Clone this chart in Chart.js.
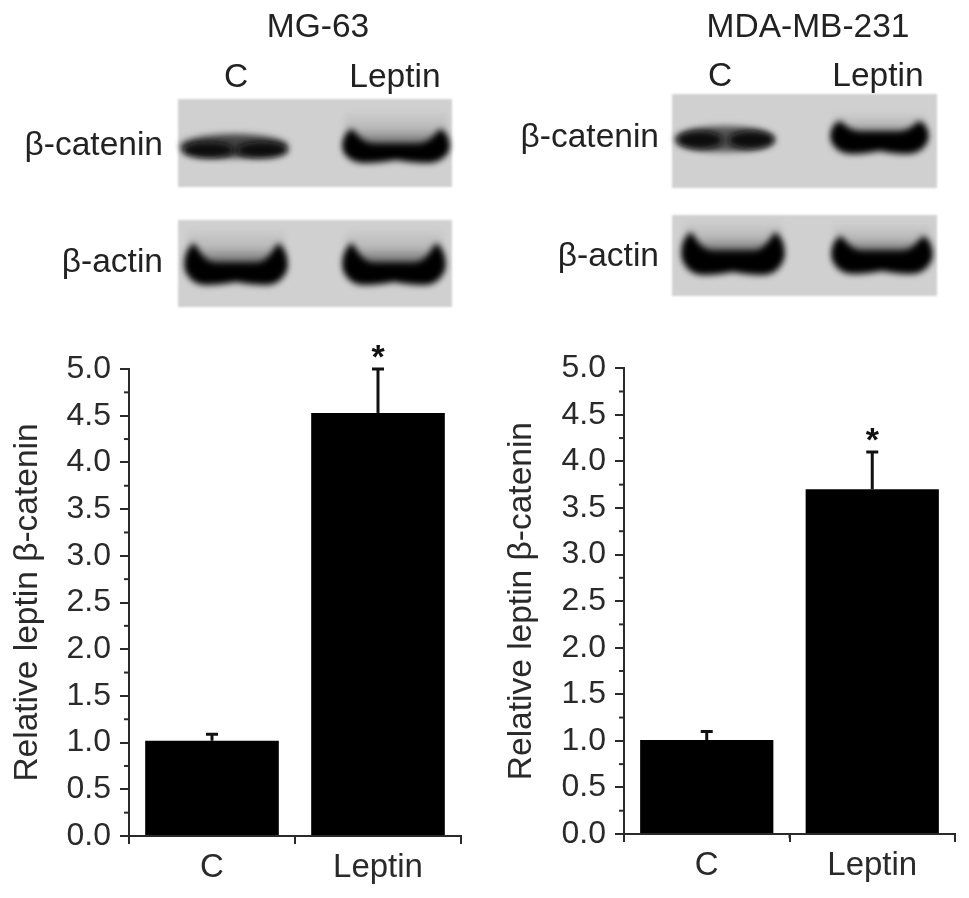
<!DOCTYPE html>
<html>
<head>
<meta charset="utf-8">
<script src="https://cdn.jsdelivr.net/npm/chart.js@4"></script>
<style>
  html, body { margin: 0; background: #fff; }
  body { position: relative; width: 969px; height: 898px; overflow: hidden; font-family: "Liberation Sans", Arial, sans-serif; color: #222; }
  canvas { position: absolute; top: 340px; filter: blur(0.5px); }
  #blots { position: absolute; left: 0; top: 0; }
  .lbl { position: absolute; font-size: 33.5px; line-height: 36px; white-space: nowrap; transform: translateX(-50%); filter: blur(0.5px); }
  .lbl.r { transform: translateX(-100%); }
</style>
</head>
<body>
<svg id="blots" width="969" height="340"></svg>

<div class="lbl" style="left:318px;top:8px">MG-63</div>
<div class="lbl" style="left:236px;top:58px">C</div>
<div class="lbl" style="left:395px;top:58px">Leptin</div>
<div class="lbl r" style="left:163px;top:126px">β-catenin</div>
<div class="lbl r" style="left:163px;top:243px">β-actin</div>

<div class="lbl" style="left:808px;top:8px">MDA-MB-231</div>
<div class="lbl" style="left:720px;top:57px">C</div>
<div class="lbl" style="left:878px;top:57px">Leptin</div>
<div class="lbl r" style="left:659px;top:118px">β-catenin</div>
<div class="lbl r" style="left:659px;top:237px">β-actin</div>

<canvas id="left" width="485" height="558" style="left:0"></canvas>
<canvas id="right" width="479" height="558" style="left:490px"></canvas>

<script>
const categories = ['C', 'Leptin'];
const mgValues = [1.02, 4.53];
const mgErrors = [0.07, 0.47];
const mdaValues = [1.01, 3.7];
const mdaErrors = [0.09, 0.4];
const starred = [false, true];
const minorY = [0.25, 0.75, 1.25, 1.75, 2.25, 2.75, 3.25, 3.75, 4.25, 4.75];
const minorX = [-0.5, 0.5, 1.5];

const ink = '#2a2a2a';
const family = '"Liberation Sans", Arial, sans-serif';

// error bars, star and the short ticks, all placed through the chart scales
const extras = {
  id: 'extras',
  afterDatasetsDraw(chart, args, opts) {
    const ctx = chart.ctx, x = chart.scales.x, y = chart.scales.y;
    ctx.save();
    ctx.strokeStyle = ink;
    ctx.lineWidth = 2;
    minorY.forEach(v => {
      ctx.beginPath();
      ctx.moveTo(x.left - 5, y.getPixelForValue(v));
      ctx.lineTo(x.left, y.getPixelForValue(v));
      ctx.stroke();
    });
    minorX.forEach(v => {
      ctx.beginPath();
      ctx.moveTo(x.getPixelForValue(v), y.bottom);
      ctx.lineTo(x.getPixelForValue(v), y.bottom + 4);
      ctx.stroke();
    });
    ctx.strokeStyle = '#111';
    ctx.lineWidth = 3;
    opts.errors.forEach((err, i) => {
      const cx = x.getPixelForValue(i);
      const top = y.getPixelForValue(opts.values[i] + err);
      ctx.beginPath();
      ctx.moveTo(cx, y.getPixelForValue(opts.values[i]));
      ctx.lineTo(cx, top);
      ctx.moveTo(cx - 6, top);
      ctx.lineTo(cx + 6, top);
      ctx.stroke();
      if (starred[i]) {
        ctx.fillStyle = '#111';
        ctx.font = 'bold 34px ' + family;
        ctx.textAlign = 'center';
        ctx.textBaseline = 'alphabetic';
        ctx.fillText('*', cx, top - 1);
      }
    });
    ctx.restore();
  }
};

function drawChart(id, values, errors, layout) {
  new Chart(document.getElementById(id), {
    type: 'bar',
    data: {
      labels: categories,
      datasets: [{
        data: values,
        backgroundColor: '#000',
        barPercentage: 0.805,
        categoryPercentage: 1
      }]
    },
    plugins: [extras],
    options: {
      responsive: false,
      animation: false,
      layout: { padding: { top: layout.top, right: layout.right, left: 0, bottom: 0 } },
      plugins: {
        legend: { display: false },
        tooltip: { enabled: false },
        extras: { values: values, errors: errors }
      },
      scales: {
        x: {
          grid: { drawOnChartArea: false, tickLength: 8, color: ink, lineWidth: 2 },
          border: { color: ink, width: 2 },
          ticks: { color: ink, padding: 4, font: { size: 33, family: family } },
          afterFit(s) { s.height = layout.below; }
        },
        y: {
          min: 0,
          max: 5,
          title: {
            display: true,
            text: 'Relative leptin β-catenin',
            color: ink,
            padding: { top: layout.titleGap, bottom: 0 },
            font: { size: 33.5, family: family, lineHeight: 1 }
          },
          grid: { drawOnChartArea: false, tickLength: 9, color: ink, lineWidth: 2 },
          border: { color: ink, width: 2 },
          ticks: {
            stepSize: 0.5,
            color: ink,
            padding: 9,
            font: { size: 32, family: family },
            callback: v => v.toFixed(1)
          },
          afterFit(s) { s.width = layout.axis; }
        }
      }
    }
  });
}

drawChart('left', mgValues, mgErrors, { top: 29, right: 24, below: 62, axis: 129, titleGap: 11 });
drawChart('right', mdaValues, mdaErrors, { top: 25, right: 14, below: 64, axis: 134, titleGap: 15 });

// gel photos, only a picture behind the chart
function bandPath(x, w, top, mid, bot) {
  const h = mid - top, r = x + w;
  return `M${x + 11} ${top} C${x + 18} ${top + h * 0.5} ${x + 22} ${mid} ${x + w * 0.32} ${mid} L${x + w * 0.68} ${mid} ` +
    `C${r - 22} ${mid} ${r - 18} ${top + h * 0.5} ${r - 11} ${top} C${r + 3} ${top + h * 0.5} ${r + 3} ${bot} ${r - 24} ${bot} ` +
    `Q${x + w * 0.65} ${bot} ${x + w * 0.5} ${bot - 3} Q${x + w * 0.35} ${bot} ${x + 24} ${bot} C${x - 3} ${bot} ${x - 3} ${top + h * 0.5} ${x + 11} ${top} Z`;
}
function blotBox(x, y, w, h) {
  return `<rect x="${x}" y="${y}" width="${w}" height="${h}" fill="#d0d0d0" filter="url(#soft)"/>`;
}
function band(x, w, top, mid, bot, smear) {
  let s = '';
  if (smear) s += `<rect x="${x + 4}" y="${smear}" width="${w - 8}" height="${mid - smear + 8}" fill="url(#fade)" filter="url(#edge)"/>`;
  s += `<path d="${bandPath(x, w, top, mid, bot)}" fill="#040404" filter="url(#edge)"/>`;
  return s;
}
function lobe(cx, cy, rx, ry, fill) {
  return `<ellipse cx="${cx}" cy="${cy}" rx="${rx}" ry="${ry}" fill="${fill}" filter="url(#edge)"/>`;
}

document.getElementById('blots').innerHTML = `
  <defs>
    <filter id="soft" x="-5%" y="-5%" width="110%" height="110%"><feGaussianBlur stdDeviation="1"/></filter>
    <filter id="edge" x="-20%" y="-40%" width="140%" height="180%"><feGaussianBlur stdDeviation="3.2"/></filter>
    <linearGradient id="fade" x1="0" y1="0" x2="0" y2="1">
      <stop offset="0" stop-color="#d0d0d0"/><stop offset="0.45" stop-color="#b8b8b8"/><stop offset="1" stop-color="#444"/>
    </linearGradient>
  </defs>` +
  blotBox(178, 99, 274, 88) + blotBox(178, 220, 274, 87) +
  blotBox(672, 94, 265, 94) + blotBox(672, 215, 265, 81) +
  lobe(234, 146, 54, 12, '#444') + lobe(208, 150, 26, 8, '#0a0a0a') + lobe(262, 150, 26, 8, '#0a0a0a') +
  band(341, 110, 129, 144, 163, 110) +
  band(183, 106, 243, 263, 285, 228) +
  band(341, 106, 243, 263, 285, 228) +
  lobe(725, 139, 50, 13, '#555') + lobe(700, 140, 23, 9, '#0a0a0a') + lobe(751, 140, 23, 9, '#0a0a0a') +
  band(829, 101, 121, 132, 154, 112) +
  band(680, 106, 232, 251, 275, 220) +
  band(830, 104, 236, 251, 274, 222);
</script>
</body>
</html>
